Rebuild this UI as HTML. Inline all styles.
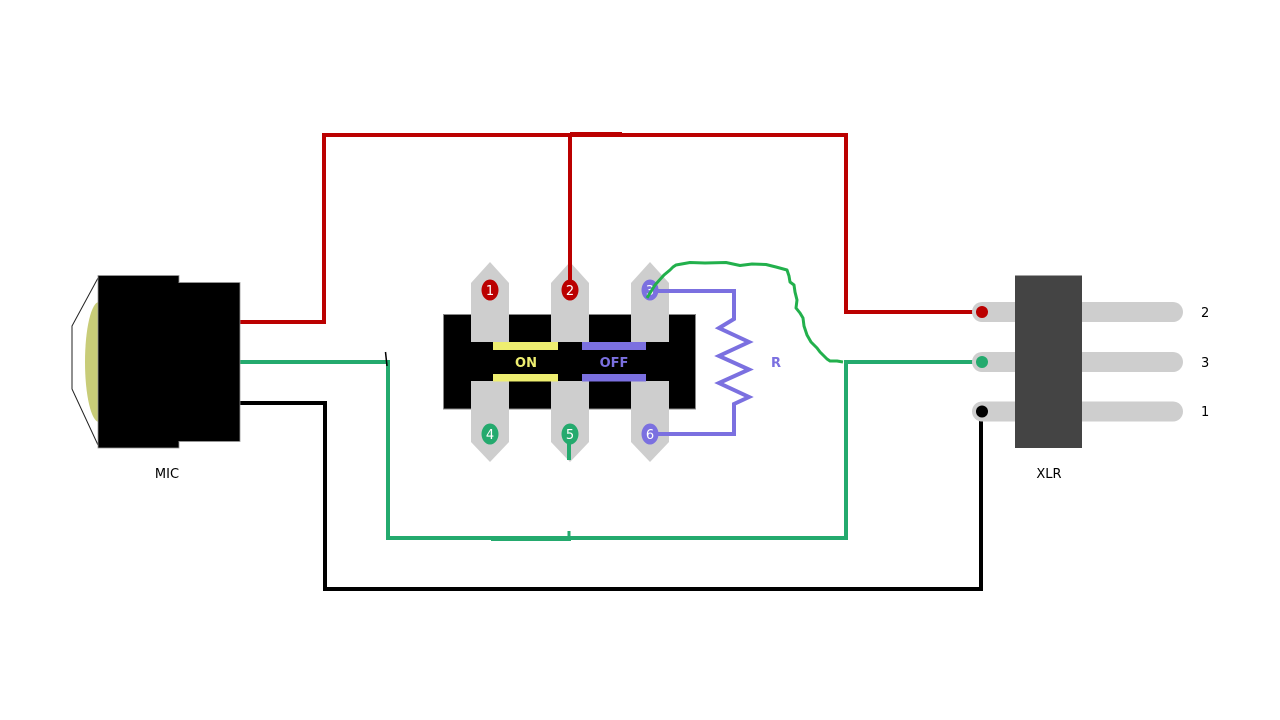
<!DOCTYPE html>
<html><head><meta charset="utf-8"><style>
html,body{margin:0;padding:0;background:#fff;}
svg{display:block;}
text{font-family:"DejaVu Sans","Liberation Sans",sans-serif;}
</style></head><body>
<svg width="1280" height="720" viewBox="0 0 1280 720" xmlns="http://www.w3.org/2000/svg">
<rect width="1280" height="720" fill="#fff"/>

<!-- wires -->
<g fill="none" stroke-width="4" stroke-linejoin="miter">
  <polyline points="240,322 324,322 324,135 846,135 846,312 981,312" stroke="#bb0000"/>
  <line x1="570" y1="134.5" x2="622" y2="134.5" stroke="#bb0000" stroke-width="5"/>
  <polyline points="240,362 388,362 388,538 846,538 846,362 981,362" stroke="#24aa6e"/>
  <line x1="491" y1="538.5" x2="571" y2="538.5" stroke="#24aa6e" stroke-width="5"/>
  <line x1="569" y1="538" x2="569" y2="531" stroke="#24aa6e" stroke-width="3"/>
  <polyline points="240,403 325,403 325,589 981,589 981,411" stroke="#000"/>
</g>
<line x1="385.5" y1="352" x2="387" y2="366" stroke="#000" stroke-width="1.5"/>

<!-- MIC -->
<polyline points="98,278 72,326 72,389 98,445" fill="none" stroke="#222" stroke-width="1"/>
<ellipse cx="99" cy="362" rx="14" ry="60" fill="#c8cc78"/>
<rect x="98" y="275.5" width="81" height="172.5" fill="#000" stroke="#999" stroke-width="0.8"/>
<rect x="179" y="282.5" width="61" height="159" fill="#000" stroke="#999" stroke-width="0.8"/>
<rect x="175" y="283" width="8" height="158" fill="#000"/>
<text x="167" y="478" font-size="13" text-anchor="middle" fill="#000">MIC</text>

<!-- Switch -->
<rect x="443.5" y="314.5" width="252" height="94.5" fill="#000" stroke="#888" stroke-width="1"/>
<g fill="#cecece">
  <polygon points="471,283 490,262 509,283 509,342 471,342"/>
  <polygon points="551,283 570,262 589,283 589,342 551,342"/>
  <polygon points="631,283 650,262 669,283 669,342 631,342"/>
  <polygon points="471,381 509,381 509,442 490,462 471,442"/>
  <polygon points="551,381 589,381 589,442 570,462 551,442"/>
  <polygon points="631,381 669,381 669,442 650,462 631,442"/>
</g>
<rect x="493" y="342" width="65" height="8" fill="#eeee70"/>
<rect x="493" y="374" width="65" height="7.5" fill="#eeee70"/>
<rect x="582" y="342" width="64" height="8" fill="#7b70e0"/>
<rect x="582" y="374" width="64" height="7.5" fill="#7b70e0"/>
<text x="526" y="367" font-size="13" font-weight="bold" text-anchor="middle" fill="#eeee70">ON</text>
<text x="614" y="367" font-size="13" font-weight="bold" text-anchor="middle" fill="#7b70e0">OFF</text>

<!-- wires over pins -->
<line x1="570" y1="135" x2="570" y2="290" stroke="#bb0000" stroke-width="4"/>
<line x1="569" y1="434" x2="569" y2="460" stroke="#24aa6e" stroke-width="4"/>

<!-- resistor -->
<polyline points="650,291 734,291 734,319 719,328 749,342 719,356 749,369.5 719,383 749,397 734,404 734,434 650,434" fill="none" stroke="#7b70e0" stroke-width="4"/>
<text x="776" y="367" font-size="13" font-weight="bold" text-anchor="middle" fill="#7b70e0">R</text>

<!-- pin circles -->
<ellipse cx="490" cy="290" rx="8.5" ry="10.5" fill="#bb0000"/>
<ellipse cx="570" cy="290" rx="8.5" ry="10.5" fill="#bb0000"/>
<ellipse cx="650" cy="290" rx="8.5" ry="10.5" fill="#7b70e0"/>
<ellipse cx="490" cy="434" rx="8.5" ry="10.5" fill="#24aa6e"/>
<ellipse cx="570" cy="434" rx="8.5" ry="10.5" fill="#24aa6e"/>
<ellipse cx="650" cy="434" rx="8.5" ry="10.5" fill="#7b70e0"/>
<g font-size="13" fill="#fff" text-anchor="middle">
  <text x="490" y="295">1</text>
  <text x="570" y="295">2</text>
  <text x="650" y="295">3</text>
  <text x="490" y="439">4</text>
  <text x="570" y="439">5</text>
  <text x="650" y="439">6</text>
</g>

<!-- wavy green wire -->
<polyline points="647,298 655,285 664,275 670,270 673,267 676,265 690,262.5 705,263 726,262.5 733,264 740,265.5 752,264 766,264.5 776,267 787,270 789,276 790,282 794,285 795,292 797,300 796,308 800,313 803,318 804,326 807,335 811,342 817,348 820,352 823,355 827,359 830,361 837,361 843,362" fill="none" stroke="#22b04c" stroke-width="3" stroke-linejoin="round"/>

<!-- XLR -->
<g stroke="#cecece" stroke-width="20" stroke-linecap="round">
  <line x1="982" y1="312" x2="1173" y2="312"/>
  <line x1="982" y1="362" x2="1173" y2="362"/>
  <line x1="982" y1="411.5" x2="1173" y2="411.5"/>
</g>
<rect x="1015" y="275.5" width="67" height="172.5" fill="#444"/>
<circle cx="982" cy="312" r="6" fill="#bb0000"/>
<circle cx="982" cy="362" r="6" fill="#24aa6e"/>
<circle cx="982" cy="411.5" r="6" fill="#000"/>
<g font-size="13" fill="#000">
  <text x="1201" y="317">2</text>
  <text x="1201" y="367">3</text>
  <text x="1201" y="416">1</text>
</g>
<text x="1049" y="478" font-size="13" text-anchor="middle" fill="#000">XLR</text>
</svg>
</body></html>
